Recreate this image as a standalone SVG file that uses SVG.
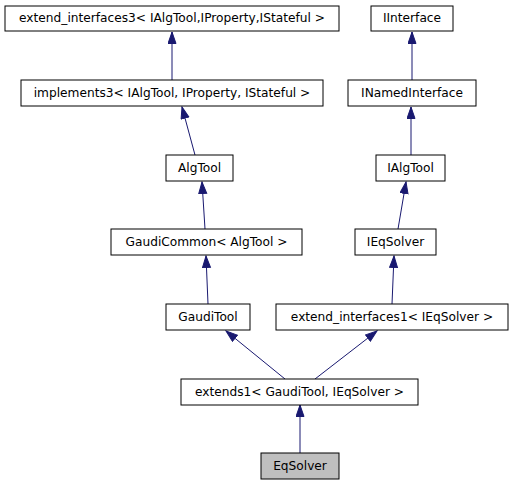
<svg xmlns="http://www.w3.org/2000/svg" width="513" height="485" viewBox="0 0 513 485">
<style>
.n rect{fill:#fff;stroke:#000;stroke-width:1}
.n text{font-family:"DejaVu Sans",sans-serif;font-size:12.2px;text-anchor:middle;fill:#000}
#n12 rect{fill:#bfbfbf}
.e line{stroke:#191970;stroke-width:1;marker-end:url(#ah)}
</style>
<defs>
<marker id="ah" markerUnits="userSpaceOnUse" markerWidth="13" markerHeight="10" refX="12" refY="4.5" orient="auto">
<path d="M0.5,0.5 L12,4.5 L0.5,8.5 z" fill="#191970" stroke="#191970" stroke-width="1"/>
</marker>
</defs>
<rect width="513" height="485" fill="#fff"/>
<g id="edges" class="e">
<line x1="172" y1="80" x2="172" y2="32"/>
<line x1="412" y1="80" x2="412" y2="32"/>
<line x1="195" y1="155" x2="182" y2="107"/>
<line x1="411" y1="155" x2="411" y2="107"/>
<line x1="205" y1="229" x2="202" y2="182"/>
<line x1="398" y1="229" x2="406" y2="182"/>
<line x1="208" y1="304" x2="206" y2="256"/>
<line x1="392" y1="304" x2="394" y2="256"/>
<line x1="285" y1="379" x2="226" y2="331"/>
<line x1="315" y1="379" x2="377" y2="331"/>
<line x1="300" y1="453" x2="300" y2="405"/>
</g>
<g id="n1" class="n"><rect x="5" y="6" width="334" height="25"/><text x="172" y="22">extend_interfaces3&lt; IAlgTool,IProperty,IStateful &gt;</text></g>
<g id="n2" class="n"><rect x="371" y="6" width="82" height="25"/><text x="412" y="22">IInterface</text></g>
<g id="n3" class="n"><rect x="21" y="80" width="302" height="26"/><text x="172" y="97">implements3&lt; IAlgTool, IProperty, IStateful &gt;</text></g>
<g id="n4" class="n"><rect x="348" y="80" width="128" height="26"/><text x="412" y="97">INamedInterface</text></g>
<g id="n5" class="n"><rect x="166" y="155" width="67" height="26"/><text x="199.5" y="172">AlgTool</text></g>
<g id="n6" class="n"><rect x="376" y="155" width="69" height="26"/><text x="410.5" y="172">IAlgTool</text></g>
<g id="n7" class="n"><rect x="111" y="229" width="191" height="26"/><text x="206.5" y="246">GaudiCommon&lt; AlgTool &gt;</text></g>
<g id="n8" class="n"><rect x="355" y="229" width="81" height="26"/><text x="395.5" y="246">IEqSolver</text></g>
<g id="n9" class="n"><rect x="166" y="304" width="84" height="26"/><text x="208" y="321">GaudiTool</text></g>
<g id="n10" class="n"><rect x="276" y="304" width="232" height="26"/><text x="392" y="321">extend_interfaces1&lt; IEqSolver &gt;</text></g>
<g id="n11" class="n"><rect x="181" y="379" width="237" height="26"/><text x="299.5" y="396">extends1&lt; GaudiTool, IEqSolver &gt;</text></g>
<g id="n12" class="n"><rect x="261" y="453" width="78" height="26"/><text x="300" y="470">EqSolver</text></g>
</svg>
